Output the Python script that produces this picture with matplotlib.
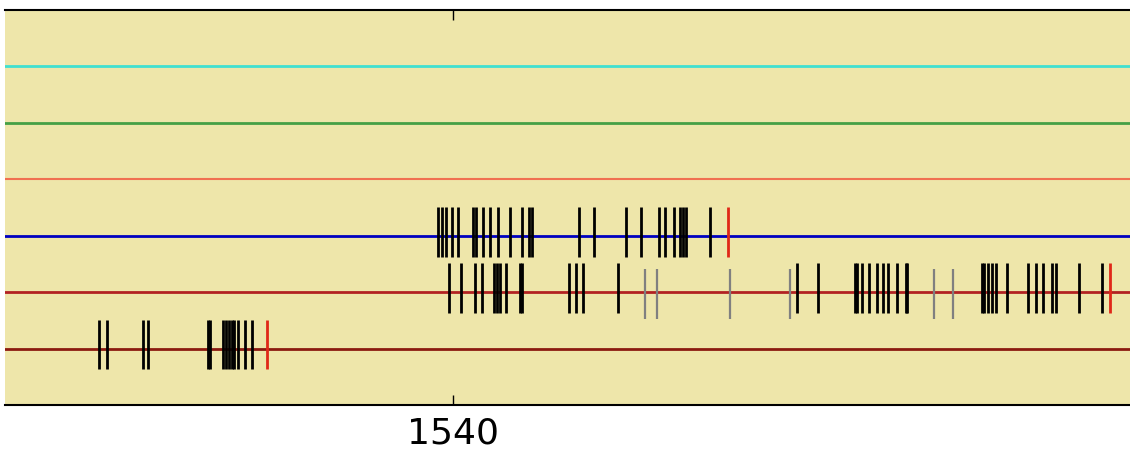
import matplotlib.pyplot as plt

# spike times per row (row 1 = bottom)
row3_black = [1539.40, 1539.56, 1539.72, 1539.96, 1540.20, 1540.80, 1540.92, 1541.20,
              1541.48, 1541.80, 1542.28, 1542.76, 1543.04, 1543.16, 1545.04, 1545.64,
              1546.92, 1547.52, 1548.24, 1548.48, 1548.84, 1549.08, 1549.20, 1549.32,
              1550.28]
row3_red = [1551.00]

row2_black = [1539.84, 1540.32, 1540.88, 1541.16, 1541.64, 1541.76, 1541.88, 1542.12,
              1542.68, 1542.76, 1544.64, 1544.92, 1545.20, 1546.60, 1553.76, 1554.60,
              1556.08, 1556.16, 1556.36, 1556.64, 1556.96, 1557.20, 1557.40, 1557.76,
              1558.12, 1558.16, 1561.16, 1561.24, 1561.40, 1561.56, 1561.72, 1562.16,
              1563.00, 1563.32, 1563.60, 1563.96, 1564.12, 1565.04, 1565.96]
row2_gray = [1547.68, 1548.16, 1551.08, 1553.48, 1559.24, 1560.00]
row2_red = [1566.28]

row1_black = [1525.84, 1526.16, 1527.60, 1527.80, 1530.20, 1530.28, 1530.80, 1530.92,
              1531.04, 1531.16, 1531.24, 1531.40, 1531.68, 1531.96]
row1_red = [1532.56]

# horizontal lines, top to bottom
line_rows = [6, 5, 4, 3, 2, 1]
line_colors = ['#40E0D0', '#45A045', '#F07050', '#0000C0', '#B22222', '#8B1A10']
line_widths = [2, 2, 1.5, 2, 2, 2]

fig = plt.figure(figsize=(11.3, 4.57), dpi=100)
ax = fig.add_axes([5 / 1130, 52 / 457, 1125 / 1130, 395 / 457])
ax.set_facecolor('#EEE6AA')

for y, c, w in zip(line_rows, line_colors, line_widths):
    ax.axhline(y, color=c, lw=w, zorder=1)

length = 0.88
ax.eventplot([row3_black, row2_black, row1_black], lineoffsets=[3.07, 2.07, 1.07],
             linelengths=length, colors='black', linewidths=2.0, zorder=2)
ax.eventplot([row3_red, row2_red, row1_red], lineoffsets=[3.07, 2.07, 1.07],
             linelengths=length, colors='#E02818', linewidths=2, zorder=2)
ax.eventplot([row2_gray], lineoffsets=[1.965], linelengths=length,
             colors='#808080', linewidths=1.6, zorder=2)

ax.set_xlim(1522.08, 1567.08)
ax.set_ylim(0, 7)
ax.set_xticks([1540])
ax.set_yticks([])
ax.tick_params(axis='x', direction='in', top=True, bottom=True, length=7,
               width=1, labelsize=26, pad=8)
for s in ['left', 'right']:
    ax.spines[s].set_visible(False)
for s in ['top', 'bottom']:
    ax.spines[s].set_linewidth(1.5)

fig.savefig('out.png', dpi=100)
